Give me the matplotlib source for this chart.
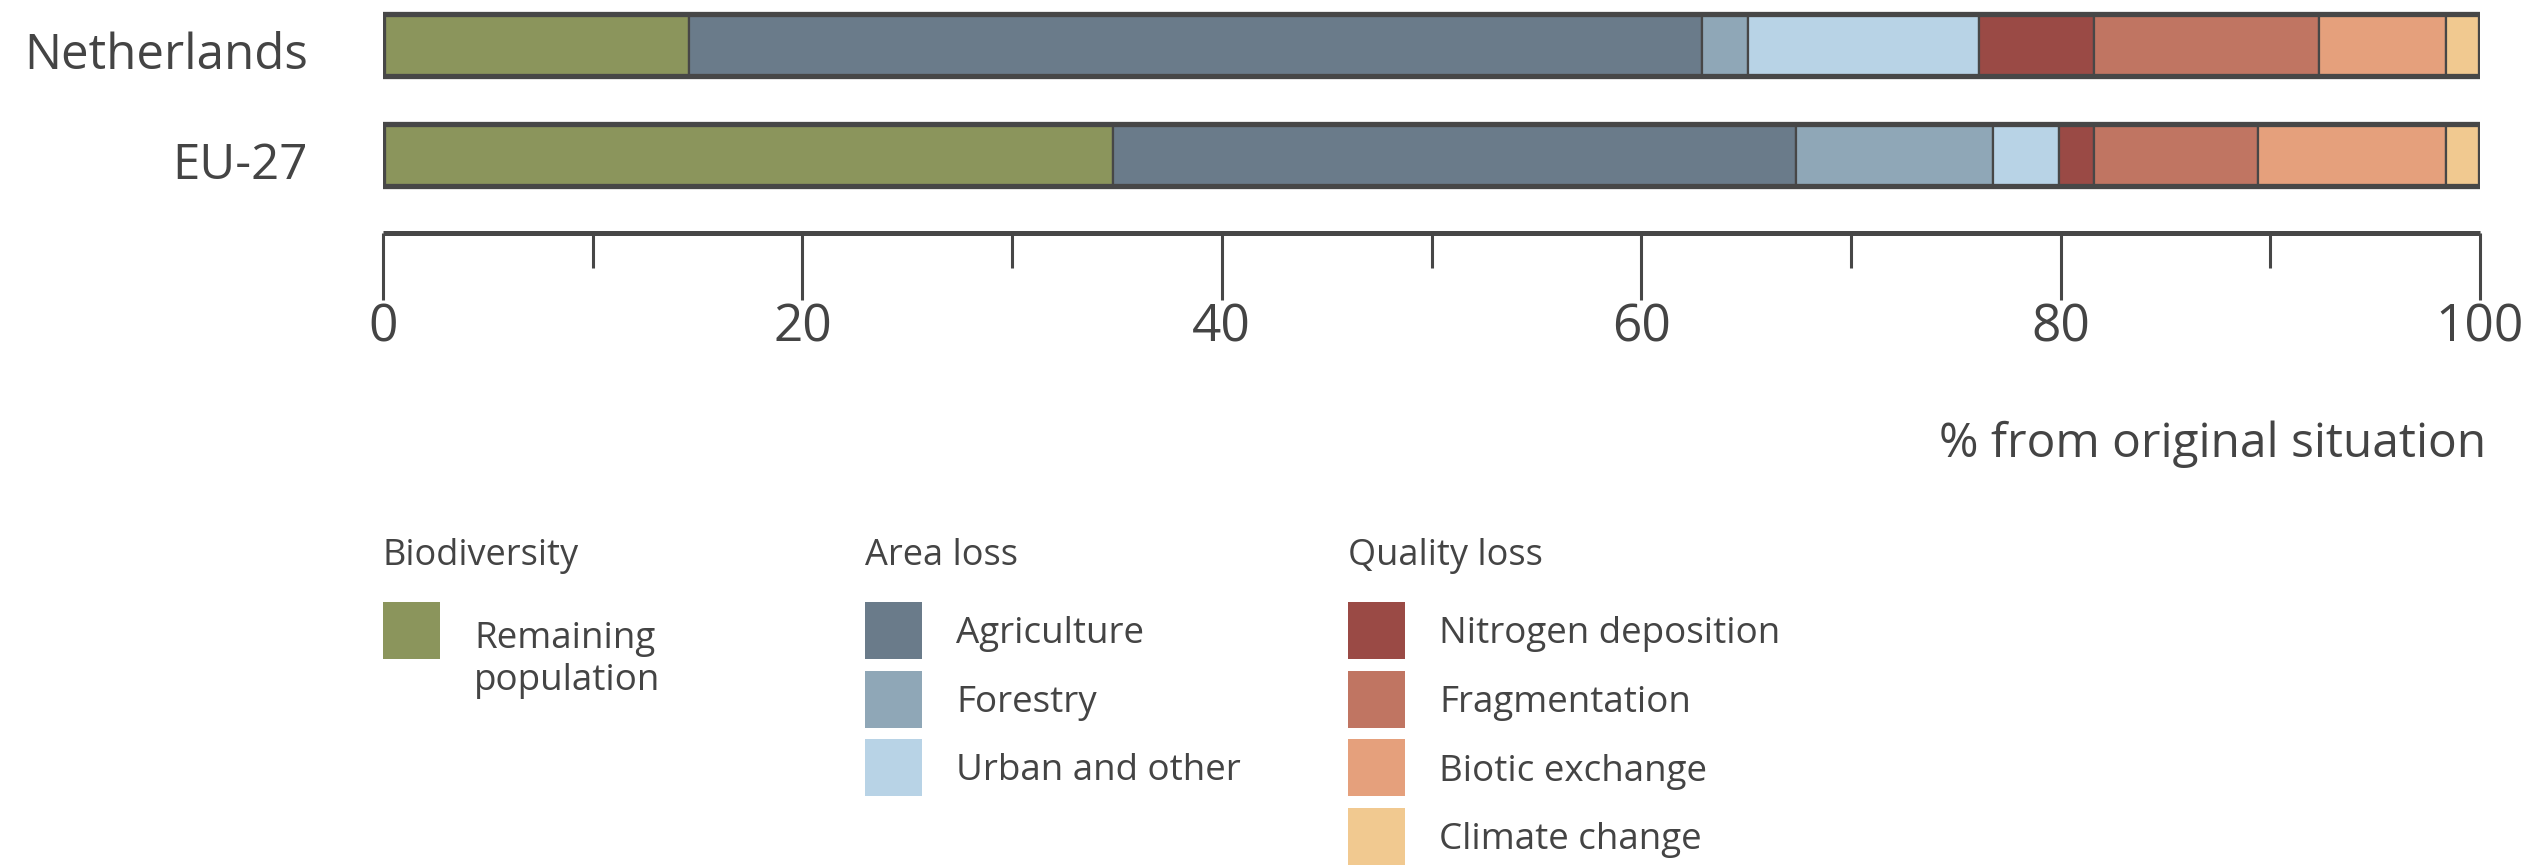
import matplotlib
matplotlib.use("Agg")
import matplotlib.pyplot as plt
import matplotlib.transforms as mtransforms
from matplotlib.patches import Rectangle

# data (% from original situation)
countries = ["Netherlands", "EU-27"]
categories = ["Remaining\npopulation", "Agriculture", "Forestry", "Urban and other",
              "Nitrogen deposition", "Fragmentation", "Biotic exchange", "Climate change"]
netherlands = [14.6, 48.3, 2.2, 11.0, 5.5, 10.7, 6.1, 1.6]
eu27 = [34.8, 32.6, 9.4, 3.1, 1.7, 7.8, 9.0, 1.6]
colors = ["#8b955c", "#6a7b8a", "#8fa7b7", "#b8d3e6",
          "#9a4a45", "#c07562", "#e5a07c", "#f1c990"]
groups = ["Biodiversity", "Area loss", "Quality loss"]
group_of = [0, 1, 1, 1, 2, 2, 2, 2]
xticks = [0, 20, 40, 60, 80, 100]

TXT = "#444444"
EDGE = "#474747"
plt.rcParams['font.family'] = ['Open Sans', 'DejaVu Sans']

W, H = 2542, 866
fig = plt.figure(figsize=(W / 100, H / 100), dpi=100)


def fx(px):
    return px / W


def fy(py):
    return 1 - py / H


# bar axes: left 383px, right 2480px, top 0, bottom (axis line) 233px
ax = fig.add_axes([fx(383), fy(233), fx(2480) - fx(383), fy(0) - fy(233)])

rows = [netherlands, eu27]
for r, vals in enumerate(rows):
    left = 0
    for v, c in zip(vals, colors):
        ax.barh(r, v, left=left, height=0.56, color=c, edgecolor=EDGE, linewidth=1.6, zorder=2)
        left += v
    ax.barh(r, left, height=0.56, fill=False, edgecolor=EDGE, linewidth=3.8, zorder=3)

ax.set_xlim(0, 100)
ax.set_ylim(1.709, -0.409)
ax.set_yticks(range(len(countries)))
ax.set_yticklabels(countries, fontsize=35.5, color=TXT)
ax.tick_params(axis='y', length=0, pad=54)
shift = mtransforms.ScaledTranslation(0, -5 / 100, fig.dpi_scale_trans)
for lab in ax.get_yticklabels():
    lab.set_transform(lab.get_transform() + shift)

ax.set_xticks(xticks)
ax.set_xticks(range(10, 100, 20), minor=True)
ax.tick_params(axis='x', which='major', length=48, width=2.2, color=EDGE,
               labelsize=37, labelcolor=TXT, pad=2)
ax.tick_params(axis='x', which='minor', length=25, width=2.2, color=EDGE)

for s in ['top', 'right', 'left']:
    ax.spines[s].set_visible(False)
ax.spines['bottom'].set_linewidth(3.6)
ax.spines['bottom'].set_color(EDGE)
ax.spines['bottom'].set_capstyle('butt')

fig.text(fx(2486), fy(444), "% from original situation", ha='right', va='center',
         fontsize=34.5, color=TXT)

# legend
col_x = [383, 865, 1348]
for g, name in enumerate(groups):
    fig.text(fx(col_x[g]), fy(556), name, ha='left', va='center', fontsize=26, color=TXT)
    items = [i for i, gi in enumerate(group_of) if gi == g]
    for k, i in enumerate(items):
        top = 602 + k * 68.5
        fig.patches.append(Rectangle((fx(col_x[g]), fy(top + 57)), fx(57), 57 / H,
                                     transform=fig.transFigure, facecolor=colors[i],
                                     edgecolor='none'))
        ty = top + 28.5 + 4
        if "\n" in categories[i]:
            ty = top + 58
        fig.text(fx(col_x[g] + 91), fy(ty), categories[i], ha='left', va='center',
                 fontsize=26.5, color=TXT, linespacing=1.22)

fig.savefig("out.png", dpi=100, facecolor="white")
